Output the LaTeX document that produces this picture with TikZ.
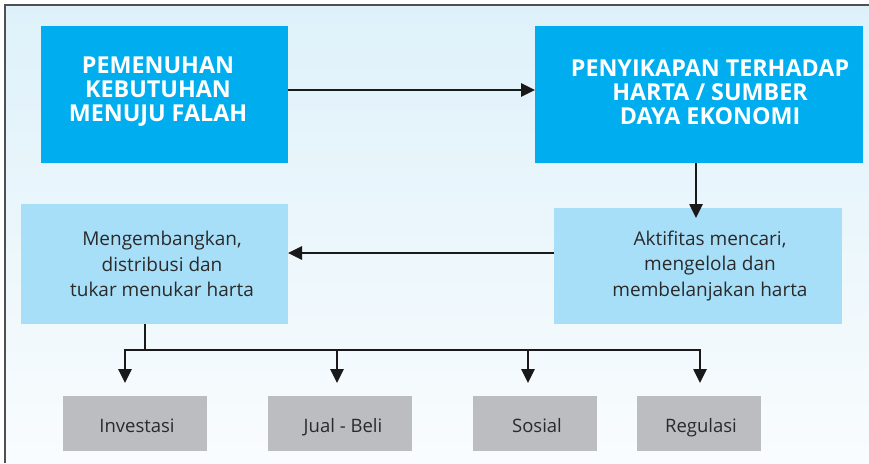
\documentclass[tikz,border=0pt]{standalone}
\usepackage{fontspec}
\setmainfont{Open Sans}
\usetikzlibrary{arrows.meta}
\definecolor{hdr}{HTML}{00AEEF}
\definecolor{lite}{HTML}{A8DFF8}
\definecolor{greybox}{HTML}{BCBDC0}
\definecolor{txt}{HTML}{2B2A2B}
\definecolor{bgtop}{HTML}{DEF1FA}
\definecolor{bgbot}{HTML}{F9FCFE}
\definecolor{frame}{HTML}{505050}
\tikzset{
  hdrtext/.style={text=white, align=center, inner sep=0pt,
    font=\bfseries\fontsize{23.3}{24}\selectfont},
  litetext/.style={text=txt, align=center, inner sep=0pt,
    font=\fontsize{19}{25.5}\selectfont},
  greyb/.style={fill=greybox, text=txt, inner sep=0pt, anchor=base,
    font=\fontsize{18.5}{20}\selectfont},
  conn/.style={line width=2.6pt, draw=black!90, -{Triangle[length=14pt,width=13pt]}},
  plain/.style={line width=2.6pt, draw=black!90},
}
\begin{document}
\begin{tikzpicture}[x=1pt,y=-1pt]
\useasboundingbox (0,0) rectangle (869,463);
\shade[top color=bgtop, bottom color=bgbot] (5,5) rectangle (869,463);
\draw[frame, line width=1.5pt] (5,463) -- (5,5) -- (869,5);

% header boxes
\fill[hdr] (41,26) rectangle (288,163);
\node[hdrtext] (a) at (158,92) {PEMENUHAN\\KEBUTUHAN\\MENUJU FALAH};
\coordinate (aE) at (288,90);
\fill[hdr] (535,26) rectangle (863,163);
\node[hdrtext] (b) at (710,92) {PENYIKAPAN TERHADAP\\HARTA / SUMBER\\DAYA EKONOMI};
\coordinate (bW) at (535,90);
\coordinate (bS) at (696,163);

% light boxes
\fill[lite] (21,204) rectangle (288,324);
\node[litetext] (c) at (162,264) {Mengembangkan,\\distribusi dan\\tukar menukar harta};
\coordinate (cE) at (288,253);
\coordinate (cS) at (145,324);
\fill[lite] (554,208) rectangle (842,324);
\node[litetext] (d) at (710,266) {Aktifitas mencari,\\mengelola dan\\membelanjakan harta};
\coordinate (dN) at (696,208);
\coordinate (dW) at (554,253);

% grey boxes
\fill[greybox] (63,396) rectangle (207,451);
\fill[greybox] (268,396) rectangle (412,451);
\fill[greybox] (473,396) rectangle (597,451);
\fill[greybox] (637,396) rectangle (761,451);
\node[greyb] (g1) at (137,432) {Investasi};
\node[greyb] (g2) at (343,432) {Jual - Beli};
\node[greyb] (g3) at (537,432) {Sosial};
\node[greyb] (g4) at (701,432) {Regulasi};

% connectors
\draw[conn] (aE) -- (bW);
\draw[conn] (bS) -- ([yshift=-10pt]dN);
\draw[conn] (dW) -- (cE);
\coordinate (j) at (145,350);
\draw[plain] (cS) -- (j);
\draw[plain] (123.7,350) -- (701.3,350);
\draw[conn] (125,349) -- (125,383);
\draw[conn] (337,349) -- (337,383);
\draw[conn] (528,349) -- (528,383);
\draw[conn] (700,349) -- (700,383);
\end{tikzpicture}
\end{document}
